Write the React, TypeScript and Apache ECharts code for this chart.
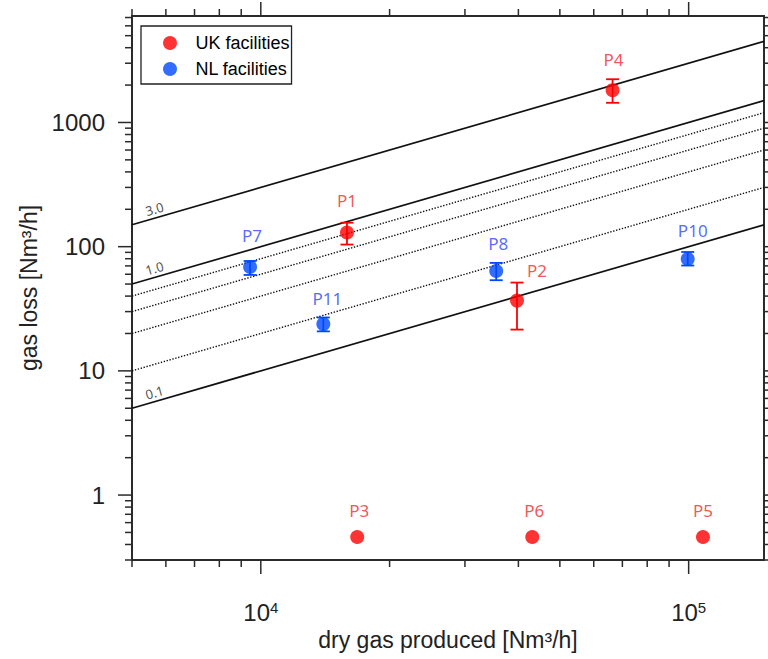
import React, { useEffect, useRef } from "react";
import * as echarts from "echarts";

// ---- data ----
const ukNames = ["P1", "P2", "P3", "P4", "P5", "P6"];
const ukX = [15900, 39700, 16800, 66400, 108000, 43100];
const ukY = [130, 36.8, 0.46, 1820, 0.46, 0.46];
const ukLow: (number | null)[] = [104, 21.5, null, 1440, null, null];
const ukHigh: (number | null)[] = [156, 51.4, null, 2230, null, null];

const nlNames = ["P7", "P8", "P10", "P11"];
const nlX = [9440, 35500, 99500, 14000];
const nlY = [68.7, 63.7, 79.6, 23.8];
const nlLow = [59.2, 53.7, 70.5, 20.8];
const nlHigh = [76.7, 74.0, 90.6, 26.9];

// reference loss lines: gas loss = pct % of dry gas produced
const linePct = [3.0, 1.0, 0.8, 0.6, 0.4, 0.2, 0.1];
const lineSolid = [true, true, false, false, false, false, true];
const lineLabels = ["3.0", "1.0", "0.1"];

// axes
const xMin = 5000;
const xMax = 150000;
const yMin = 0.3;
const yMax = 7200;
const xMajorTicks = [1e4, 1e5];
const xTickLabels = ["10{sup|4}", "10{sup|5}"];
const yMajorTicks = [1, 10, 100, 1000];
const yTickLabels = ["1", "10", "100", "1000"];
const minorMultipliers = [2, 3, 4, 5, 6, 7, 8, 9];

// label placement (styling)
const labelShift: Record<string, [number, number]> = {
  P1: [0, -32],
  P2: [20, -30],
  P3: [2, -26],
  P4: [1, -31],
  P5: [0, -26],
  P6: [2, -26],
  P7: [2, -31],
  P8: [2, -27],
  P10: [5, -28],
  P11: [4, -26],
};

const RED = "#ff0000";
const BLUE = "#0048ff";
const RED_TXT = "#f02828";
const BLUE_TXT = "#2a44ff";
const AXIS = "#2a2a2a";
const SANS = "'Liberation Sans', Arial, sans-serif";

function buildTicks(min: number, max: number, majors: number[]) {
  const out: number[][] = [];
  const lo = Math.floor(Math.log10(min)) - 1;
  const hi = Math.ceil(Math.log10(max)) + 1;
  for (let e = lo; e <= hi; e++) {
    const base = Math.pow(10, e);
    const isMajor = majors.some((m) => Math.abs(Math.log10(m) - e) < 1e-9);
    if (base >= min * 0.9999 && base <= max * 1.0001) out.push([base, isMajor ? 1 : 0]);
    for (const m of minorMultipliers) {
      const v = m * base;
      if (v >= min * 0.9999 && v <= max * 1.0001) out.push([v, 0]);
    }
  }
  return out;
}

export default function App() {
  const ref = useRef<HTMLDivElement>(null);

  useEffect(() => {
    document.body.style.margin = "0";
    if (!ref.current) return;
    const chart = echarts.init(ref.current, null, { renderer: "svg" });

    const xTicks = buildTicks(xMin, xMax, xMajorTicks);
    const yTicks = buildTicks(yMin, yMax, yMajorTicks);

    const lineSeries = linePct.map((p, i) => ({
      type: "line",
      name: "line" + p,
      data: [
        [xMin, (p / 100) * xMin],
        [xMax, (p / 100) * xMax],
      ],
      symbol: "none",
      silent: true,
      z: 1,
      lineStyle: {
        color: "#111",
        width: lineSolid[i] ? 1.7 : 1.4,
        type: lineSolid[i] ? "solid" : [1.4, 1.6],
      },
    }));

    const labelX = 5720;
    const lineLabelSeries = {
      type: "scatter",
      name: "lineLabels",
      silent: true,
      symbolSize: 0,
      z: 3,
      data: lineLabels.map((t) => ({
        name: t,
        value: [labelX, (parseFloat(t) / 100) * labelX],
      })),
      label: {
        show: true,
        formatter: (p: any) => p.name,
        position: "inside",
        offset: [0, -9],
        rotate: 16,
        fontSize: 13,
        color: "#222",
        fontFamily: "'Noto Sans', sans-serif",
      },
    };

    const errRender = (color: string) => (params: any, api: any) => {
      const x = api.value(0);
      const lo = api.value(1);
      const hi = api.value(2);
      const pl = api.coord([x, lo]);
      const ph = api.coord([x, hi]);
      const hw = 6.5;
      const st = { stroke: color, lineWidth: 1.8 };
      return {
        type: "group",
        children: [
          { type: "line", shape: { x1: pl[0], y1: pl[1], x2: ph[0], y2: ph[1] }, style: st },
          { type: "line", shape: { x1: pl[0] - hw, y1: pl[1], x2: pl[0] + hw, y2: pl[1] }, style: st },
          { type: "line", shape: { x1: ph[0] - hw, y1: ph[1], x2: ph[0] + hw, y2: ph[1] }, style: st },
        ],
      };
    };

    const ukErr: number[][] = [];
    ukX.forEach((x, i) => {
      if (ukLow[i] != null && ukHigh[i] != null) ukErr.push([x, ukLow[i] as number, ukHigh[i] as number]);
    });
    const nlErr: number[][] = nlX.map((x, i) => [x, nlLow[i], nlHigh[i]]);

    const pointSeries = (name: string, names: string[], xs: number[], ys: number[], color: string, txt: string) => ({
      type: "scatter",
      name,
      symbol: "circle",
      symbolSize: 14,
      z: 5,
      itemStyle: { color },
      data: names.map((n, i) => ({
        name: n,
        value: [xs[i], ys[i]],
        label: { offset: labelShift[n] },
      })),
      label: {
        show: true,
        position: "inside",
        formatter: (p: any) => p.name,
        fontSize: 17,
        color: txt,
        fontFamily: "'Noto Sans', sans-serif",
      },
    });

    const tickStyle = { stroke: AXIS, lineWidth: 1.5 };
    const xTickSeries = {
      type: "custom",
      name: "xticks",
      silent: true,
      clip: false,
      z: 10,
      data: xTicks,
      encode: { x: 0 },
      renderItem: (params: any, api: any) => {
        const cs = params.coordSys;
        const v = api.value(0);
        const major = api.value(1) === 1;
        const len = major ? 14 : 7;
        const px = api.coord([v, 1])[0];
        const yb = cs.y + cs.height;
        const yt = cs.y;
        return {
          type: "group",
          children: [
            { type: "line", shape: { x1: px, y1: yb, x2: px, y2: yb + len }, style: tickStyle },
            { type: "line", shape: { x1: px, y1: yt, x2: px, y2: yt - len }, style: tickStyle },
          ],
        };
      },
    };
    const yTickSeries = {
      type: "custom",
      name: "yticks",
      silent: true,
      clip: false,
      z: 10,
      data: yTicks.map((t) => [1e4, t[0], t[1]]),
      encode: { x: 0, y: 1 },
      renderItem: (params: any, api: any) => {
        const cs = params.coordSys;
        const v = api.value(1);
        const major = api.value(2) === 1;
        const len = major ? 14 : 7;
        const py = api.coord([1e4, v])[1];
        const xl = cs.x;
        const xr = cs.x + cs.width;
        return {
          type: "group",
          children: [
            { type: "line", shape: { x1: xl, y1: py, x2: xl - len, y2: py }, style: tickStyle },
            { type: "line", shape: { x1: xr, y1: py, x2: xr + len, y2: py }, style: tickStyle },
          ],
        };
      },
    };

    const isPow = (v: number, list: number[]) => list.findIndex((m) => Math.abs(Math.log10(v) - Math.log10(m)) < 1e-6);

    const option: any = {
      animation: false,
      backgroundColor: "#ffffff",
      grid: {
        left: 132,
        right: 4,
        top: 16,
        bottom: 99,
        containLabel: false,
        outerBoundsMode: "none",
        show: true,
        borderColor: AXIS,
        borderWidth: 2,
        backgroundColor: "transparent",
      },
      legend: {
        data: ["UK facilities", "NL facilities"],
        orient: "vertical",
        left: 141,
        top: 26,
        icon: "circle",
        itemWidth: 41,
        itemHeight: 14,
        itemGap: 6,
        padding: [7, 2, 5, 22],
        borderColor: "#222",
        borderWidth: 1.3,
        backgroundColor: "#fff",
        textStyle: {
          fontSize: 18,
          lineHeight: 20,
          color: "#000",
          fontFamily: SANS,
        },
      },
      xAxis: {
        type: "log",
        logBase: 10,
        min: xMin,
        max: xMax,
        name: "dry gas produced [Nm³/h]",
        nameLocation: "middle",
        nameGap: 57,
        nameTextStyle: { fontSize: 23, color: "#222", fontFamily: SANS },
        axisLine: { show: false },
        axisTick: { show: false },
        splitLine: { show: false },
        axisLabel: {
          margin: 40,
          color: "#222",
          fontFamily: SANS,
          fontSize: 24,
          showMinLabel: true,
          showMaxLabel: true,
          formatter: (v: number) => {
            const k = isPow(v, xMajorTicks);
            return k >= 0 ? xTickLabels[k] : "";
          },
          rich: {
            sup: { fontSize: 15, verticalAlign: "top", lineHeight: 15, color: "#222", fontFamily: SANS },
          },
        },
      },
      yAxis: {
        type: "log",
        logBase: 10,
        min: yMin,
        max: yMax,
        name: "gas loss [Nm³/h]",
        nameLocation: "middle",
        nameGap: 92,
        nameTextStyle: { fontSize: 23, color: "#222", fontFamily: SANS },
        axisLine: { show: false },
        axisTick: { show: false },
        splitLine: { show: false },
        axisLabel: {
          margin: 27,
          color: "#222",
          fontFamily: SANS,
          fontSize: 24,
          formatter: (v: number) => {
            const k = isPow(v, yMajorTicks);
            return k >= 0 ? yTickLabels[k] : "";
          },
        },
      },
      series: [
        ...lineSeries,
        lineLabelSeries,
        {
          type: "custom",
          name: "ukErr",
          silent: true,
          z: 4,
          data: ukErr,
          encode: { x: 0, y: [1, 2] },
          renderItem: errRender(RED),
        },
        {
          type: "custom",
          name: "nlErr",
          silent: true,
          z: 4,
          data: nlErr,
          encode: { x: 0, y: [1, 2] },
          renderItem: errRender(BLUE),
        },
        pointSeries("UK facilities", ukNames, ukX, ukY, RED, RED_TXT),
        pointSeries("NL facilities", nlNames, nlX, nlY, BLUE, BLUE_TXT),
        xTickSeries,
        yTickSeries,
      ],
    };

    chart.setOption(option);
    return () => chart.dispose();
  }, []);

  return <div ref={ref} style={{ width: 768, height: 659 }} />;
}
